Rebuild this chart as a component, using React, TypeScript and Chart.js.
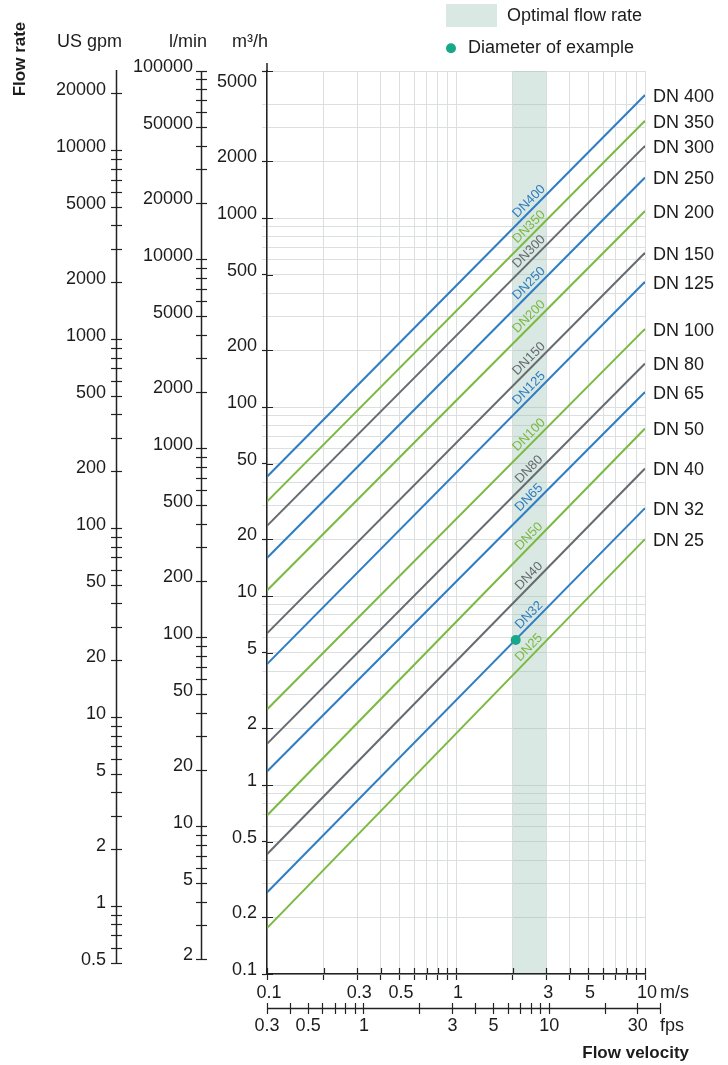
import React, { useEffect, useRef } from 'react';
import { Chart, registerables } from 'chart.js';

Chart.register(...registerables);

// ---------- data ----------
const DN_NAMES = ['DN 400', 'DN 350', 'DN 300', 'DN 250', 'DN 200', 'DN 150', 'DN 125', 'DN 100', 'DN 80', 'DN 65', 'DN 50', 'DN 40', 'DN 32', 'DN 25'];
// flow (m³/h) read at 0.1 m/s and at 10 m/s
const Q_AT_MIN_V = [42.8, 31.6, 23.5, 15.9, 10.7, 6.35, 4.36, 2.51, 1.65, 1.18, 0.69, 0.43, 0.27, 0.175];
const Q_AT_MAX_V = [4475, 3270, 2410, 1640, 1090, 655, 460, 259, 170, 120, 77, 47.3, 29.2, 20];
const VELOCITY_RANGE = [0.1, 10];
const FLOW_RANGE = [0.1, 6000];
const OPTIMAL_VELOCITY = [2, 3];
const EXAMPLE_V = [2.07];
const EXAMPLE_Q = [5.85];

// unit conversions
const LPM_PER_M3H = 16.667;
const GPM_PER_M3H = 4.403;
const FPS_PER_MS = 3.281;

// tick labels
const MS_LABELS = [0.1, 0.3, 0.5, 1, 3, 5, 10];
const FPS_LABELS = [0.3, 0.5, 1, 3, 5, 10, 30];
const FPS_RANGE = [0.3, 40];
const M3H_LABELS = [0.1, 0.2, 0.5, 1, 2, 5, 10, 20, 50, 100, 200, 500, 1000, 2000, 5000];
const M3H_TICK_MARKS = [0.1, 0.2, 0.5, 1, 2, 5, 10, 20, 50, 100, 200, 500, 1000, 2000, 6000];
const M3H_NO_GRID = [5000];
const LPM_LABELS = [2, 5, 10, 20, 50, 100, 200, 500, 1000, 2000, 5000, 10000, 20000, 50000, 100000];
const GPM_LABELS = [0.5, 1, 2, 5, 10, 20, 50, 100, 200, 500, 1000, 2000, 5000, 10000, 20000];
const MANTISSAS = [1, 2, 3, 4, 5, 6, 7, 8, 9];

// ---------- style ----------
const BLUE = '#2f7dc2';
const GREEN = '#7aba41';
const GREY = '#666b70';
const LINE_COLORS = [BLUE, GREEN, GREY, BLUE, GREEN, GREY, BLUE, GREEN, GREY, BLUE, GREEN, GREY, BLUE, GREEN];
const TEAL = '#17a88a';
const BAND = 'rgba(150,190,175,0.36)';
const GRID = '#dcdfdf';
const AXIS = '#222222';
const TEXT = '#1c1c1c';
const FONT = '"Liberation Sans", Arial, Helvetica, sans-serif';

const near = (list: number[], v: number) => list.some((l) => Math.abs(l - v) < 1e-9 * Math.max(1, Math.abs(l)));

function logTicks(min: number, max: number) {
  const out: { value: number }[] = [];
  for (let e = Math.floor(Math.log10(min)) - 1; e <= Math.ceil(Math.log10(max)); e++) {
    for (const m of MANTISSAS) {
      const v = Number((m * Math.pow(10, e)).toPrecision(6));
      if (v >= min * (1 - 1e-9) && v <= max * (1 + 1e-9)) out.push({ value: v });
    }
  }
  return out;
}

const labelCb = (labels: number[]) => (v: any) => (near(labels, Number(v)) ? String(Number(v)) : '');

const overlayPlugin = {
  id: 'overlay',
  beforeDatasetsDraw(chart: any) {
    const { ctx, chartArea, scales } = chart;
    const x0 = scales.x.getPixelForValue(OPTIMAL_VELOCITY[0]);
    const x1 = scales.x.getPixelForValue(OPTIMAL_VELOCITY[1]);
    ctx.save();
    ctx.fillStyle = BAND;
    ctx.fillRect(x0, chartArea.top, x1 - x0, chartArea.bottom - chartArea.top - 1);
    ctx.restore();
  },
  afterDraw(chart: any) {
    const { ctx, chartArea, scales } = chart;
    const xs = scales.x, ys = scales.y, fps = scales.fps, lpm = scales.lpm, gpm = scales.gpm;
    ctx.save();
    ctx.strokeStyle = AXIS;
    ctx.lineWidth = 1.2;
    // inner halves of m/s ticks
    ctx.beginPath();
    for (const t of logTicks(VELOCITY_RANGE[0], VELOCITY_RANGE[1])) {
      const px = Math.round(xs.getPixelForValue(t.value)) + 0.5;
      ctx.moveTo(px, chartArea.bottom);
      ctx.lineTo(px, chartArea.bottom - 6);
    }
    // inner halves of m³/h ticks
    for (const v of M3H_TICK_MARKS) {
      const py = Math.round(ys.getPixelForValue(v)) + 0.5;
      ctx.moveTo(chartArea.left, py);
      ctx.lineTo(chartArea.left + 6, py);
    }
    ctx.stroke();
    // axis lines of the secondary scales
    ctx.lineWidth = 1.5;
    ctx.beginPath();
    const gx = gpm.right - 5.5;
    ctx.moveTo(gx, gpm.getPixelForValue(GPM_LABELS[0]));
    ctx.lineTo(gx, chartArea.top - 1);
    const lx = lpm.right - 5.5;
    ctx.moveTo(lx, lpm.getPixelForValue(LPM_LABELS[0]));
    ctx.lineTo(lx, lpm.getPixelForValue(LPM_LABELS[LPM_LABELS.length - 1]));
    const fy = fps.top + 5.5;
    ctx.moveTo(fps.getPixelForValue(FPS_RANGE[0]), fy);
    ctx.lineTo(fps.getPixelForValue(FPS_RANGE[1]), fy);
    ctx.moveTo(chartArea.left, chartArea.top);
    ctx.lineTo(chartArea.left, chartArea.top - 8);
    ctx.stroke();

    // line labels
    const xa = xs.getPixelForValue(VELOCITY_RANGE[0]);
    const xb = xs.getPixelForValue(VELOCITY_RANGE[1]);
    const xl = xs.getPixelForValue(2.6);
    DN_NAMES.forEach((name, i) => {
      const ya = ys.getPixelForValue(Q_AT_MIN_V[i]);
      const yb = ys.getPixelForValue(Q_AT_MAX_V[i]);
      // right-hand name
      ctx.fillStyle = TEXT;
      ctx.font = `18px ${FONT}`;
      ctx.textAlign = 'left';
      ctx.textBaseline = 'middle';
      ctx.fillText(name, chartArea.right + 8, yb + 2);
      // in-line name
      const t = (xl - xa) / (xb - xa);
      const yl = ya + t * (yb - ya);
      ctx.save();
      ctx.translate(xl, yl);
      ctx.rotate(Math.atan2(yb - ya, xb - xa));
      ctx.fillStyle = LINE_COLORS[i];
      ctx.font = `13px ${FONT}`;
      ctx.textAlign = 'center';
      ctx.textBaseline = 'alphabetic';
      ctx.fillText(name.replace(' ', ''), 0, -4);
      ctx.restore();
    });

    // unit texts
    ctx.fillStyle = TEXT;
    ctx.font = `18px ${FONT}`;
    ctx.textBaseline = 'middle';
    ctx.textAlign = 'left';
    ctx.fillText('m/s', chartArea.right + 15, xs.top + 19);
    ctx.fillText('fps', chartArea.right + 15, fps.top + 23);
    ctx.textAlign = 'right';
    ctx.fillText('US gpm', gpm.right, 42);
    ctx.fillText('l/min', lpm.right, 42);
    ctx.fillText('m³/h', ys.right + 1, 42);

    // titles
    ctx.font = `bold 17px ${FONT}`;
    ctx.textAlign = 'right';
    ctx.fillText('Flow velocity', 689, 1053);
    ctx.save();
    ctx.translate(20, 59);
    ctx.rotate(-Math.PI / 2);
    ctx.textAlign = 'center';
    ctx.fillText('Flow rate', 0, 0);
    ctx.restore();

    // legend
    ctx.fillStyle = '#ffffff';
    ctx.fillRect(446, 4, 51, 23);
    ctx.fillStyle = BAND;
    ctx.fillRect(446, 4, 51, 23);
    ctx.fillStyle = TEAL;
    ctx.beginPath();
    ctx.arc(451, 48.3, 5, 0, Math.PI * 2);
    ctx.fill();
    ctx.fillStyle = TEXT;
    ctx.font = `18px ${FONT}`;
    ctx.textAlign = 'left';
    ctx.fillText('Optimal flow rate', 507, 16);
    ctx.fillText('Diameter of example', 468, 48.5);
    ctx.restore();
  },
};

export default function App() {
  const ref = useRef<HTMLCanvasElement | null>(null);
  useEffect(() => {
    if (!ref.current) return;
    const tickFont = { family: FONT, size: 18 };
    const lineSets = DN_NAMES.map((name, i) => ({
      label: name,
      data: [
        { x: VELOCITY_RANGE[0], y: Q_AT_MIN_V[i] },
        { x: VELOCITY_RANGE[1], y: Q_AT_MAX_V[i] },
      ],
      showLine: true,
      borderColor: LINE_COLORS[i],
      backgroundColor: LINE_COLORS[i],
      borderWidth: 2,
      pointRadius: 0,
      order: 1,
    }));
    const chart = new Chart(ref.current, {
      type: 'scatter',
      data: {
        datasets: [
          {
            label: 'Diameter of example',
            data: EXAMPLE_V.map((v, i) => ({ x: v, y: EXAMPLE_Q[i] })),
            pointRadius: 5,
            pointBackgroundColor: TEAL,
            pointBorderColor: TEAL,
            pointBorderWidth: 0,
            showLine: false,
            order: 0,
          },
          ...lineSets,
        ],
      } as any,
      options: {
        animation: false,
        responsive: false,
        events: [],
        layout: { padding: { left: 0, top: 71, right: 83, bottom: 22 } },
        plugins: { legend: { display: false }, tooltip: { enabled: false } },
        scales: {
          x: {
            type: 'logarithmic',
            position: 'bottom',
            weight: 1,
            min: VELOCITY_RANGE[0],
            max: VELOCITY_RANGE[1],
            afterBuildTicks: (s: any) => { s.ticks = logTicks(VELOCITY_RANGE[0], VELOCITY_RANGE[1]); },
            afterFit: (s: any) => { s.height = 29; },
            grid: { color: GRID, lineWidth: 1, tickColor: AXIS, tickWidth: 1.2, tickLength: 6 },
            border: { color: AXIS, width: 1.5 },
            ticks: { autoSkip: false, maxRotation: 0, minRotation: 0, padding: 2, labelOffset: 2, color: TEXT, font: tickFont, callback: labelCb(MS_LABELS) },
          },
          fps: {
            type: 'logarithmic',
            axis: 'x',
            position: 'bottom',
            weight: 2,
            min: VELOCITY_RANGE[0] * FPS_PER_MS,
            max: VELOCITY_RANGE[1] * FPS_PER_MS,
            afterBuildTicks: (s: any) => { s.ticks = logTicks(FPS_RANGE[0], FPS_RANGE[1]); },
            afterFit: (s: any) => { s.height = 40; },
            grid: { drawOnChartArea: false, color: AXIS, tickColor: AXIS, tickWidth: 1.2, tickLength: 11 },
            border: { display: false },
            ticks: { autoSkip: false, maxRotation: 0, minRotation: 0, padding: 1, color: TEXT, font: tickFont, callback: labelCb(FPS_LABELS) },
          },
          y: {
            type: 'logarithmic',
            position: 'left',
            weight: 1,
            min: FLOW_RANGE[0],
            max: FLOW_RANGE[1],
            afterBuildTicks: (s: any) => { s.ticks = logTicks(FLOW_RANGE[0], FLOW_RANGE[1]); },
            afterFit: (s: any) => { s.width = 60; },
            grid: {
              color: (c: any) => (c.tick && near(M3H_NO_GRID, c.tick.value) ? 'rgba(0,0,0,0)' : GRID),
              tickColor: (c: any) => (c.tick && near(M3H_TICK_MARKS, c.tick.value) ? AXIS : (c.tick && near(M3H_NO_GRID, c.tick.value) ? 'rgba(0,0,0,0)' : GRID)),
              lineWidth: 1,
              tickWidth: (c: any) => (c.tick && near(M3H_TICK_MARKS, c.tick.value) ? 1.2 : 1),
              tickLength: 5,
            },
            border: { color: AXIS, width: 1.5 },
            ticks: { autoSkip: false, padding: 5, labelOffset: -4, color: TEXT, font: tickFont, callback: labelCb(M3H_LABELS) },
          },
          lpm: {
            type: 'logarithmic',
            axis: 'y',
            position: 'left',
            weight: 2,
            min: FLOW_RANGE[0] * LPM_PER_M3H,
            max: FLOW_RANGE[1] * LPM_PER_M3H,
            afterBuildTicks: (s: any) => { s.ticks = logTicks(LPM_LABELS[0], LPM_LABELS[LPM_LABELS.length - 1]); },
            afterFit: (s: any) => { s.width = 85; },
            grid: { drawOnChartArea: false, color: AXIS, tickColor: AXIS, tickWidth: 1.2, tickLength: 11 },
            border: { display: false },
            ticks: { autoSkip: false, padding: 3, labelOffset: -4, color: TEXT, font: tickFont, callback: labelCb(LPM_LABELS) },
          },
          gpm: {
            type: 'logarithmic',
            axis: 'y',
            position: 'left',
            weight: 3,
            min: FLOW_RANGE[0] * GPM_PER_M3H,
            max: FLOW_RANGE[1] * GPM_PER_M3H,
            afterBuildTicks: (s: any) => { s.ticks = logTicks(GPM_LABELS[0], GPM_LABELS[GPM_LABELS.length - 1]); },
            afterFit: (s: any) => { s.width = 122; },
            grid: { drawOnChartArea: false, color: AXIS, tickColor: AXIS, tickWidth: 1.2, tickLength: 11 },
            border: { display: false },
            ticks: { autoSkip: false, padding: 5, labelOffset: -4, color: TEXT, font: tickFont, callback: labelCb(GPM_LABELS) },
          },
        },
      } as any,
      plugins: [overlayPlugin],
    });
    return () => chart.destroy();
  }, []);

  return (
    <div style={{ position: 'absolute', left: 0, top: 0, width: 728, height: 1065, background: '#ffffff' }}>
      <canvas ref={ref} width={728} height={1065} style={{ display: 'block' }} />
    </div>
  );
}
